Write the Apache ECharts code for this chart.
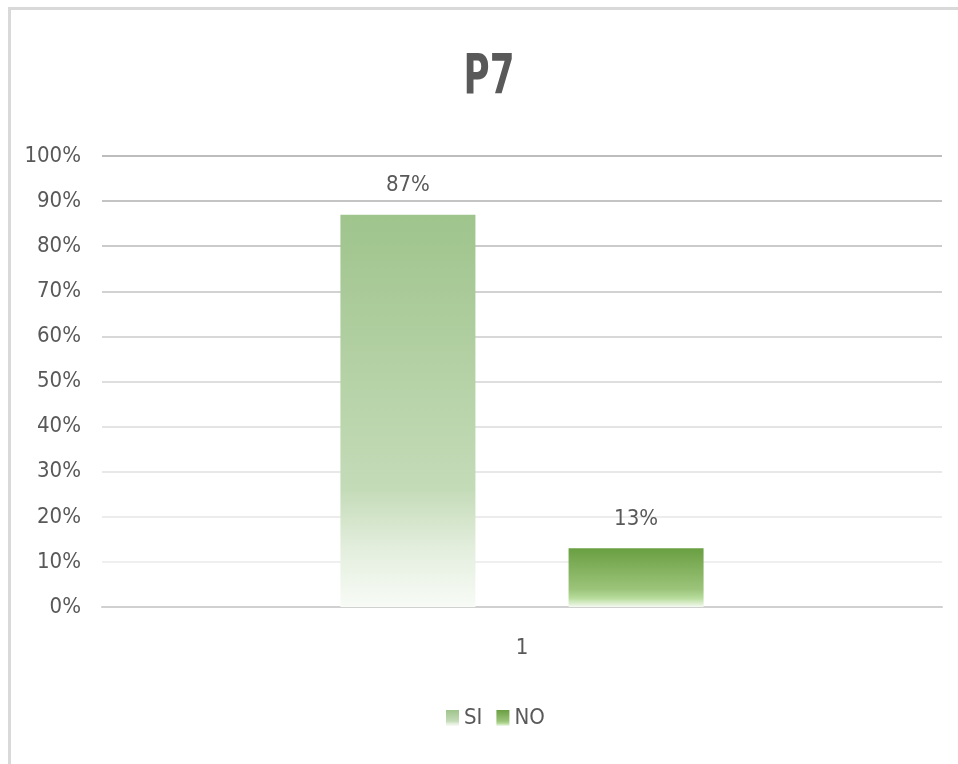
<!DOCTYPE html>
<html>
<head>
<meta charset="utf-8">
<script src="https://cdn.jsdelivr.net/npm/echarts@6/dist/echarts.min.js"></script>
<style>
  html, body { margin: 0; padding: 0; background: #fff; overflow: hidden; }
  #chart { width: 958px; height: 764px; }
  /* outer chart frame, only the top and left edges are in view */
  #frame {
    position: absolute; left: 8px; top: 7px; width: 1200px; height: 1200px;
    border-top: 3px solid #d9d9d9; border-left: 3px solid #d9d9d9; pointer-events: none;
  }
</style>
</head>
<body>
<div id="chart"></div>
<div id="frame"></div>
<script>
const TITLE = "P7";
const categories = ["1"];
const seriesNames = ["SI", "NO"];
const siValues = [87];
const noValues = [13];

const FONT = "'DejaVu Sans Condensed', 'Liberation Sans Narrow', sans-serif";
const TEXT_COLOR = "#595959";

// grid lines fade from darker (top) to lighter (bottom), index 0 = 0%
const splitColors = ["#d4d4d4", "#efefef", "#ececec", "#e8e8e8", "#e4e4e4",
  "#dedede", "#d8d8d8", "#d2d2d2", "#cbcbcb", "#c4c4c4", "#bdbdbd"];

const siGradient = new echarts.graphic.LinearGradient(0, 0, 0, 1, [
  { offset: 0, color: "#9fc48c" },
  { offset: 0.7, color: "#c4dbb8" },
  { offset: 0.85, color: "#e3eedd" },
  { offset: 1, color: "#f8fbf6" },
]);
const noGradient = new echarts.graphic.LinearGradient(0, 0, 0, 1, [
  { offset: 0, color: "#6a9f42" },
  { offset: 0.7, color: "#9cc47a" },
  { offset: 0.85, color: "#b7dc9c" },
  { offset: 1, color: "#f4f9f0" },
]);

const chart = echarts.init(document.getElementById("chart"));

const labelStyle = {
  show: true,
  position: "top",
  distance: 18,
  formatter: "{c}%",
  color: TEXT_COLOR,
  fontSize: 22,
  fontFamily: FONT,
};

chart.setOption({
  animation: false,
  backgroundColor: "#fff",
  textStyle: { fontFamily: FONT },
  // title drawn as graphic text so it can be squeezed like the original
  graphic: [
    {
      type: "text",
      x: 489,
      y: 79,
      scaleX: 0.72,
      style: {
        text: TITLE,
        fill: TEXT_COLOR,
        font: "bold 55px " + FONT,
        align: "center",
        verticalAlign: "middle",
      },
    },
  ],
  legend: {
    data: seriesNames,
    bottom: 30,
    left: 441,
    icon: "rect",
    itemWidth: 13,
    itemHeight: 16,
    itemGap: 14,
    textStyle: { color: TEXT_COLOR, fontSize: 22, fontFamily: FONT },
  },
  grid: { left: 102, right: 16, top: 156, bottom: 157 },
  xAxis: {
    type: "category",
    data: categories,
    axisTick: { show: false },
    axisLine: { lineStyle: { color: "#d0d0d0", width: 2 } },
    axisLabel: { color: TEXT_COLOR, fontSize: 22, margin: 30, fontFamily: FONT },
  },
  yAxis: {
    type: "value",
    min: 0,
    max: 100,
    interval: 10,
    axisLine: { show: false },
    axisTick: { show: false },
    axisLabel: { color: TEXT_COLOR, fontSize: 22, margin: 21, formatter: "{value}%", fontFamily: FONT },
    splitLine: { lineStyle: { color: splitColors, width: 2 } },
  },
  series: [
    {
      name: "SI",
      type: "bar",
      data: siValues,
      barWidth: 135,
      barGap: "69%",
      itemStyle: { color: siGradient },
      label: labelStyle,
    },
    {
      name: "NO",
      type: "bar",
      data: noValues,
      barWidth: 135,
      barGap: "69%",
      itemStyle: { color: noGradient },
      label: labelStyle,
    },
  ],
});
</script>
</body>
</html>
